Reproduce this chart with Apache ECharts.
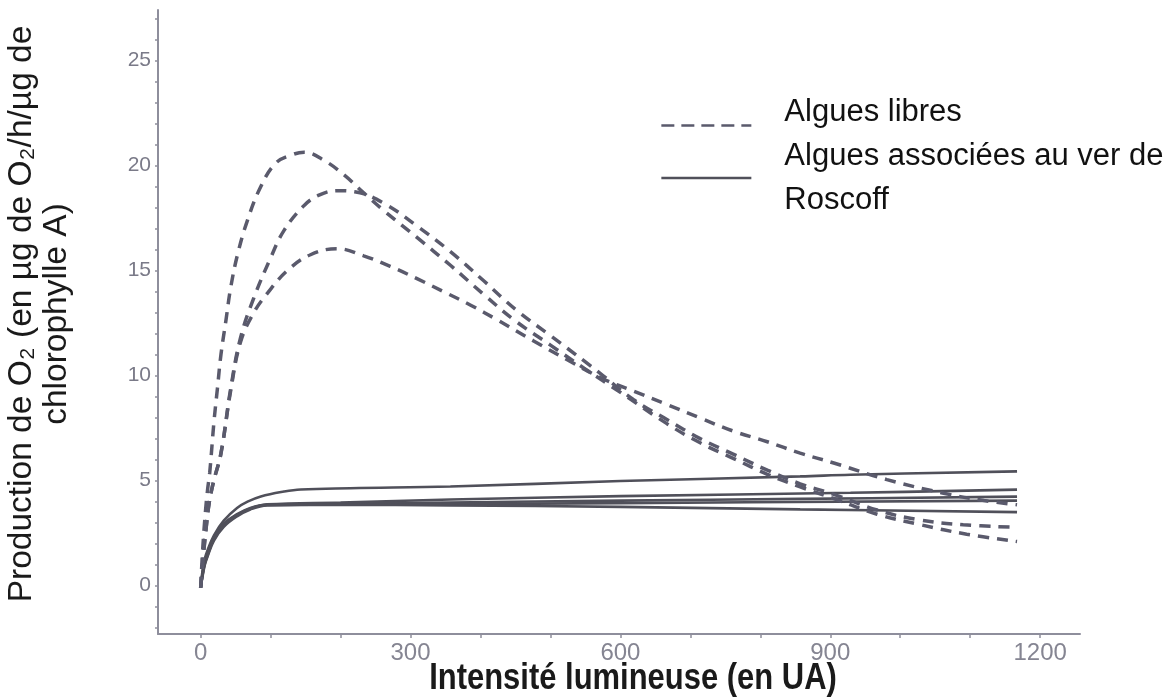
<!DOCTYPE html>
<html>
<head>
<meta charset="utf-8">
<script src="https://cdn.jsdelivr.net/npm/echarts@6/dist/echarts.min.js"></script>
<style>html,body{margin:0;padding:0;background:#fff}#c{width:1165px;height:697px}</style>
</head>
<body>
<div id="c"></div>
<script>
// ---- data (x = light intensity, y = O2 production) ----
const xTickLabels = [0, 300, 600, 900, 1200];
const yTickLabels = [0, 5, 10, 15, 20, 25];
const nameFree = 'Algues libres';
const nameAssoc = 'Algues associées au ver de\nRoscoff';

const freeA = [[0,-0.1],[3,1.8],[7,3.6],[10,4.6],[13,5.4],[19,7.8],[24,9.4],[29,11.0],[36,12.6],[43,14.2],[53,15.8],[67,17.4],[86,19.0],[107,20.1],[130,20.5],[148,20.63],[176,20.25],[205,19.55],[233,18.7],[262,17.85],[310,16.55],[357,15.25],[405,13.85],[450,12.6],[500,11.45],[548,10.35],[600,9.2],[667,7.7],[714,6.8],[762,6.05],[810,5.3],[857,4.7],[905,4.15],[967,3.4],[1029,2.9],[1095,2.45],[1167,2.1]];
const freeB = [[0,-0.1],[4,1.5],[8,2.8],[12,3.9],[18,4.9],[29,6.3],[43,9.4],[57,11.8],[76,13.7],[100,15.6],[119,16.9],[148,18.1],[170,18.6],[195,18.8],[220,18.75],[262,18.2],[310,17.1],[357,15.9],[405,14.5],[450,13.15],[500,11.9],[550,10.65],[575,10.0],[619,8.85],[667,7.9],[714,7.0],[762,6.25],[810,5.5],[857,4.85],[905,4.35],[967,3.6],[1024,3.15],[1090,2.9],[1167,2.78]];
const freeC = [[0,-0.1],[4,1.5],[8,2.8],[12,3.9],[18,4.9],[29,6.3],[43,9.3],[57,11.6],[76,13.0],[95,13.9],[124,15.0],[157,15.75],[195,16.04],[233,15.7],[271,15.2],[310,14.6],[347,14.0],[386,13.35],[424,12.65],[476,11.65],[524,10.75],[575,9.85],[619,9.26],[667,8.62],[714,7.98],[762,7.35],[810,6.85],[857,6.31],[905,5.84],[981,5.05],[1062,4.4],[1120,4.05],[1167,3.85]];

const assoc1 = [[0,-0.1],[3,0.8],[6,1.3],[10,1.7],[19,2.4],[33,3.1],[52,3.7],[67,4.0],[86,4.25],[119,4.48],[143,4.58],[214,4.64],[357,4.72],[600,4.98],[857,5.2],[929,5.28],[1167,5.44]];
const assoc2 = [[0,-0.1],[3,0.7],[6,1.2],[10,1.55],[19,2.3],[33,2.95],[52,3.4],[71,3.7],[95,3.87],[200,3.96],[357,4.1],[600,4.26],[929,4.42],[1167,4.57]];
const assoc3 = [[0,-0.1],[3,0.6],[6,1.1],[10,1.5],[19,2.25],[33,2.9],[52,3.37],[71,3.68],[95,3.85],[200,3.9],[357,3.96],[600,4.05],[857,4.13],[1167,4.24]];
const assoc4 = [[0,-0.1],[3,0.55],[6,1.05],[10,1.45],[19,2.2],[33,2.85],[52,3.34],[71,3.66],[95,3.84],[357,3.88],[600,3.93],[1167,4.05]];
const assoc5 = [[0,-0.1],[3,0.5],[6,1.0],[10,1.4],[19,2.15],[33,2.8],[52,3.3],[71,3.63],[95,3.82],[200,3.85],[357,3.82],[600,3.75],[857,3.63],[1167,3.5]];

const xMinorTicks = [0,100,200,300,400,500,600,700,800,900,1000,1100,1200];
const yMinorTicks = [-2,-1,0,1,2,3,4,5,6,7,8,9,10,11,12,13,14,15,16,17,18,19,20,21,22,23,24,25,26,27];

const dashColor = '#5a5a6c';
const solidColor = '#50505a';
const axisColor = '#8e8e9c';

function dashed(d){
  return {type:'line', name:nameFree, data:d, symbol:'none', smooth:0.4,
    lineStyle:{color:dashColor, width:3.5, type:[11,8]}, itemStyle:{color:dashColor}, z:3};
}
function solid(d){
  return {type:'line', name:nameAssoc, data:d, symbol:'none', smooth:0.4,
    lineStyle:{color:solidColor, width:2.6, type:'solid'}, itemStyle:{color:solidColor}, z:2};
}

const chart = echarts.init(document.getElementById('c'), null, {renderer:'canvas'});
chart.setOption({
  animation:false,
  backgroundColor:'#ffffff',
  grid:{left:158, top:10, right:85, bottom:63, containLabel:false, outerBoundsMode:'none'},
  xAxis:{type:'value', min:-61, max:1257,
    axisLine:{onZero:false, lineStyle:{color:axisColor, width:2}},
    axisTick:{show:true, customValues:xMinorTicks, length:4, lineStyle:{color:axisColor, width:1.5}},
    axisLabel:{customValues:xTickLabels, formatter:function(v){return String(v);}, color:'#858592', fontSize:24, fontFamily:'"Liberation Sans",sans-serif', margin:7},
    splitLine:{show:false}},
  yAxis:{type:'value', min:-2.3, max:27.4,
    axisLine:{show:true, onZero:false, lineStyle:{color:axisColor, width:2}},
    axisTick:{show:true, customValues:yMinorTicks, length:3, lineStyle:{color:axisColor, width:1.5}},
    axisLabel:{customValues:yTickLabels, formatter:function(v){return String(v);}, color:'#7a7a88', fontSize:21, fontFamily:'"Liberation Sans",sans-serif', margin:7},
    splitLine:{show:false}},
  legend:[
    {data:[{name:nameFree, itemStyle:{opacity:0}, lineStyle:{width:2.7, type:[13,7], color:dashColor}}], left:660, top:97, padding:0, itemWidth:90, itemHeight:14, selectedMode:false,
     formatter:function(n){return n + '\n ';},
     textStyle:{fontSize:31, fontFamily:'"Liberation Sans",sans-serif', color:'#111', lineHeight:26, padding:[0,0,0,28]}},
    {data:[{name:nameAssoc, itemStyle:{opacity:0}, lineStyle:{width:2.7, type:'solid', color:solidColor}}], left:660, top:134, padding:0, itemWidth:90, itemHeight:14, selectedMode:false,
     textStyle:{fontSize:31, fontFamily:'"Liberation Sans",sans-serif', color:'#111', lineHeight:44, padding:[0,0,0,28]}}
  ],
  graphic:[
    {type:'text', x:39, y:314, rotation:Math.PI/2, silent:true,
     style:{text:'Production de O\u2082 (en \u00b5g de O\u2082/h/\u00b5g de\nchlorophylle A)', fontSize:33.5, fontFamily:'"Liberation Sans",sans-serif', fill:'#1a1a1a', align:'center', verticalAlign:'middle', lineHeight:35}},
    {type:'text', x:633, y:679, scaleX:0.86, silent:true,
     style:{text:'Intensité lumineuse (en UA)', fontSize:36, fontWeight:'bold', fontFamily:'"Liberation Sans",sans-serif', fill:'#1a1a1a', align:'center', verticalAlign:'middle'}}
  ],
  series:[dashed(freeA), dashed(freeB), dashed(freeC), solid(assoc1), solid(assoc2), solid(assoc3), solid(assoc4), solid(assoc5)]
});
</script>
</body>
</html>
